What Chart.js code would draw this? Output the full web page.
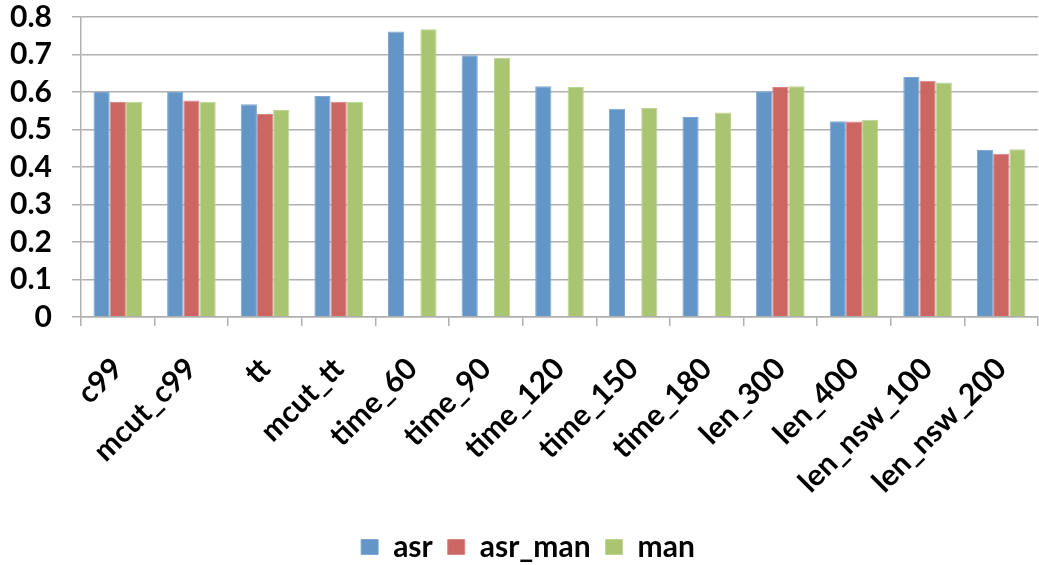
<!DOCTYPE html>
<html>
<head>
<meta charset="utf-8">
<script src="https://cdn.jsdelivr.net/npm/chart.js@4/dist/chart.umd.min.js"></script>
<style>
  html, body { margin: 0; padding: 0; background: #ffffff; }
  #wrap { width: 1039px; height: 565px; }
</style>
</head>
<body>
<div id="wrap"><canvas id="chart" width="1039" height="565"></canvas></div>
<script>
// Configurations compared along the x axis
const categories = ['c99', 'mcut_c99', 'tt', 'mcut_tt', 'time_60', 'time_90', 'time_120',
                    'time_150', 'time_180', 'len_300', 'len_400', 'len_nsw_100', 'len_nsw_200'];

// Scores per configuration (null = not measured for that setting)
const asr     = [0.600, 0.600, 0.567, 0.589, 0.761, 0.698, 0.615, 0.555, 0.533, 0.602, 0.522, 0.640, 0.445];
const asrMan  = [0.574, 0.577, 0.541, 0.574, null,  null,  null,  null,  null,  0.613, 0.521, 0.630, 0.435];
const man     = [0.574, 0.574, 0.552, 0.574, 0.767, 0.691, 0.613, 0.557, 0.545, 0.615, 0.526, 0.625, 0.447];

// Value axis ticks
const yTicks = [0, 0.1, 0.2, 0.3, 0.4, 0.5, 0.6, 0.7, 0.8];

const FONT = 'Lato, "Open Sans", "DejaVu Sans", sans-serif';
const GRID = '#b0b0b0';

const chart = new Chart(document.getElementById('chart'), {
  type: 'bar',
  data: {
    labels: categories,
    datasets: [
      { label: 'asr',     data: asr,    backgroundColor: '#6395c7', borderColor: '#7ea8d3', borderWidth: 1 },
      { label: 'asr_man', data: asrMan, backgroundColor: '#cc6662', borderColor: '#d98683', borderWidth: 1 },
      { label: 'man',     data: man,    backgroundColor: '#a9c572', borderColor: '#bdd391', borderWidth: 1 }
    ]
  },
  options: {
    responsive: false,
    animation: false,
    layout: { padding: { top: 0, right: 1, left: 0, bottom: -15 } },
    datasets: { bar: { categoryPercentage: 0.66, barPercentage: 1.0 } },
    plugins: {
      legend: {
        position: 'bottom',
        labels: {
          boxWidth: 17,
          boxHeight: 15,
          padding: 15,
          color: '#000000',
          font: { family: FONT, size: 30, weight: 'bold' }
        }
      },
      tooltip: { enabled: false }
    },
    scales: {
      x: {
        afterFit: (scale) => { scale.paddingRight = 0; },
        grid: { display: true, drawOnChartArea: false, drawTicks: true, tickLength: 9, color: GRID, lineWidth: 1.5, offset: true },
        border: { display: true, color: GRID, width: 1.5 },
        ticks: {
          autoSkip: false,
          minRotation: 45,
          maxRotation: 45,
          padding: 25,
          color: '#000000',
          font: { family: FONT, size: 30, weight: 'bold' }
        }
      },
      y: {
        min: 0,
        max: 0.8,
        afterFit: (scale) => { scale.width = 81; scale.paddingTop = 17; },
        afterBuildTicks: (scale) => { scale.ticks = yTicks.map(v => ({ value: v })); },
        grid: { color: GRID, lineWidth: 1.5, drawTicks: true, tickLength: 9 },
        border: { display: true, color: GRID, width: 1.5 },
        ticks: {
          autoSkip: false,
          padding: 20,
          color: '#000000',
          font: { family: FONT, size: 30, weight: 'bold' },
          callback: (v) => (v === 0 ? '0' : Number(v).toFixed(1))
        }
      }
    }
  }
});

// Nudge the legend row slightly right and up from its default slot
const legendDraw = chart.legend.draw.bind(chart.legend);
chart.legend.draw = function () {
  const ctx = chart.ctx;
  ctx.save();
  ctx.translate(9, -8);
  legendDraw();
  ctx.restore();
};
chart.draw();
</script>
</body>
</html>
